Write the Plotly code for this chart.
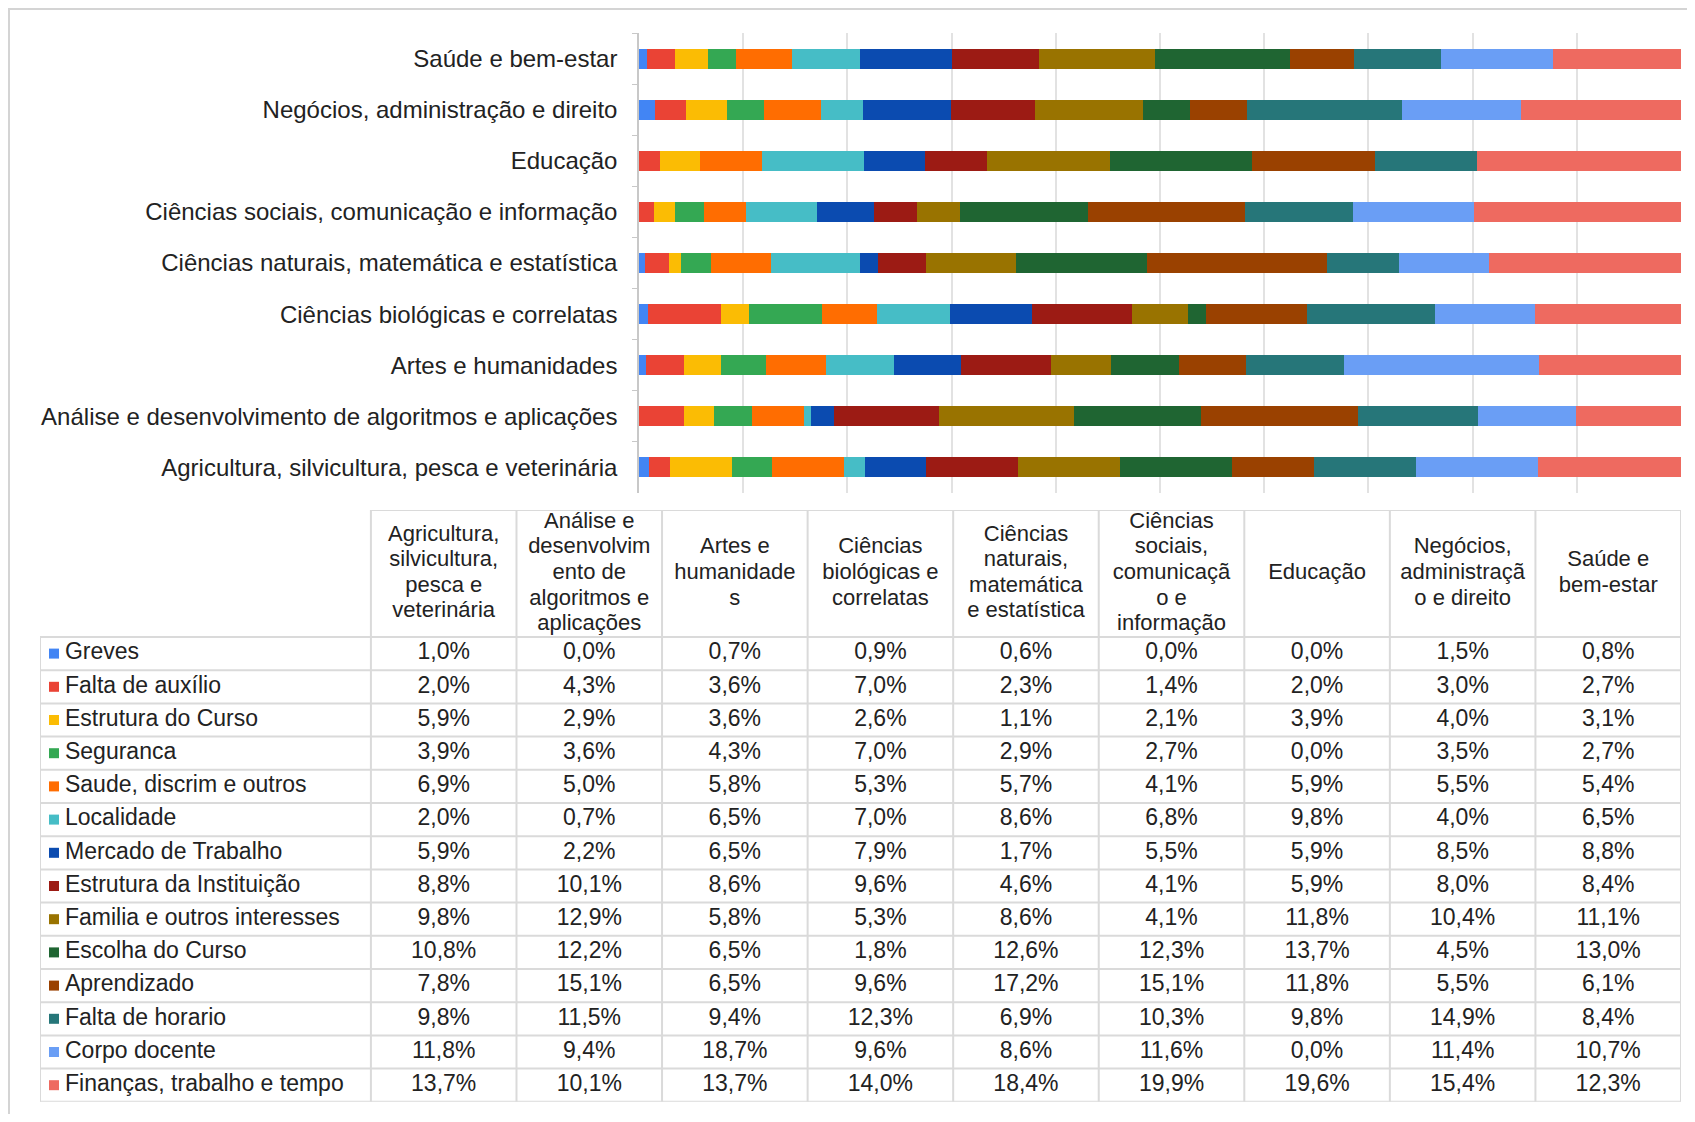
import plotly.graph_objects as go

# areas (bar categories / table columns), bottom-to-top order in the chart
areas = [
    "Agricultura, silvicultura, pesca e veterinária",
    "Análise e desenvolvimento de algoritmos e aplicações",
    "Artes e humanidades",
    "Ciências biológicas e correlatas",
    "Ciências naturais, matemática e estatística",
    "Ciências sociais, comunicação e informação",
    "Educação",
    "Negócios, administração e direito",
    "Saúde e bem-estar",
]

# column headers as they wrap in the table
area_headers = [
    "Agricultura,<br>silvicultura,<br>pesca e<br>veterinária",
    "Análise e<br>desenvolvim<br>ento de<br>algoritmos e<br>aplicações",
    "Artes e<br>humanidade<br>s",
    "Ciências<br>biológicas e<br>correlatas",
    "Ciências<br>naturais,<br>matemática<br>e estatística",
    "Ciências<br>sociais,<br>comunicaçã<br>o e<br>informação",
    "Educação",
    "Negócios,<br>administraçã<br>o e direito",
    "Saúde e<br>bem-estar",
]

reasons = [
    "Greves",
    "Falta de auxílio",
    "Estrutura do Curso",
    "Seguranca",
    "Saude, discrim e outros",
    "Localidade",
    "Mercado de Trabalho",
    "Estrutura da Instituição",
    "Familia e outros interesses",
    "Escolha do Curso",
    "Aprendizado",
    "Falta de horario",
    "Corpo docente",
    "Finanças, trabalho e tempo",
]

greves = [1.0, 0.0, 0.7, 0.9, 0.6, 0.0, 0.0, 1.5, 0.8]
falta_auxilio = [2.0, 4.3, 3.6, 7.0, 2.3, 1.4, 2.0, 3.0, 2.7]
estrutura_curso = [5.9, 2.9, 3.6, 2.6, 1.1, 2.1, 3.9, 4.0, 3.1]
seguranca = [3.9, 3.6, 4.3, 7.0, 2.9, 2.7, 0.0, 3.5, 2.7]
saude_discrim = [6.9, 5.0, 5.8, 5.3, 5.7, 4.1, 5.9, 5.5, 5.4]
localidade = [2.0, 0.7, 6.5, 7.0, 8.6, 6.8, 9.8, 4.0, 6.5]
mercado_trabalho = [5.9, 2.2, 6.5, 7.9, 1.7, 5.5, 5.9, 8.5, 8.8]
estrutura_instituicao = [8.8, 10.1, 8.6, 9.6, 4.6, 4.1, 5.9, 8.0, 8.4]
familia = [9.8, 12.9, 5.8, 5.3, 8.6, 4.1, 11.8, 10.4, 11.1]
escolha_curso = [10.8, 12.2, 6.5, 1.8, 12.6, 12.3, 13.7, 4.5, 13.0]
aprendizado = [7.8, 15.1, 6.5, 9.6, 17.2, 15.1, 11.8, 5.5, 6.1]
falta_horario = [9.8, 11.5, 9.4, 12.3, 6.9, 10.3, 9.8, 14.9, 8.4]
corpo_docente = [11.8, 9.4, 18.7, 9.6, 8.6, 11.6, 0.0, 11.4, 10.7]
financas = [13.7, 10.1, 13.7, 14.0, 18.4, 19.9, 19.6, 15.4, 12.3]

series = [
    greves, falta_auxilio, estrutura_curso, seguranca, saude_discrim,
    localidade, mercado_trabalho, estrutura_instituicao, familia,
    escolha_curso, aprendizado, falta_horario, corpo_docente, financas,
]

colors = [
    "#4285F4", "#EA4335", "#FBBC04", "#34A853", "#FF6D01", "#46BDC6",
    "#0B4BB0", "#9C1B14", "#997300", "#1F6532", "#9A4100", "#267679",
    "#6A9EF5", "#EE6A60",
]

FONT = "Liberation Sans, Arial, sans-serif"
TEXT = "#222222"
LINE = "#dadada"

# figure sits inside the page body (8px margin)
W, H, OFF = 1679, 1106, 8


def px(x):
    return (x - OFF) / W


def py(y):
    return 1 - (y - OFF) / H


# table geometry
col_w = [331] + [145.6] * len(areas)
edges = [0]
for w in col_w:
    edges.append(edges[-1] + w)
table_w = edges[-1]
header_h = 127
row_h = 33.2
line_h = 25.6
table_h = header_h + row_h * len(reasons)
centers = [(edges[k] + edges[k + 1]) / 2 for k in range(len(col_w))]

fig = go.Figure()

for name, vals, col in zip(reasons, series, colors):
    fig.add_trace(
        go.Bar(
            x=vals,
            y=areas,
            orientation="h",
            name=name,
            marker_color=col,
            marker_line_width=0,
            hoverinfo="skip",
            showlegend=False,
        )
    )

# table: cell values
cx, cy, ct = [], [], []
for i, vals in enumerate(series):
    for j, v in enumerate(vals):
        cx.append(centers[j + 1])
        cy.append(header_h + (i + 0.5) * row_h)
        ct.append(f"{v:.1f}".replace(".", ",") + "%")

fig.add_trace(
    go.Scatter(
        x=cx, y=cy, text=ct, mode="text", textposition="middle center",
        textfont=dict(family=FONT, size=23, color=TEXT),
        xaxis="x2", yaxis="y2", cliponaxis=False, hoverinfo="skip", showlegend=False,
    )
)

# table: column headers, one point per wrapped line (tighter line spacing)
hx, hy, ht = [], [], []
for j, label in enumerate(area_headers):
    lines = label.split("<br>")
    n = len(lines)
    for k, ln in enumerate(lines):
        hx.append(centers[j + 1])
        hy.append(header_h / 2 + (k - (n - 1) / 2) * line_h)
        ht.append(ln)

fig.add_trace(
    go.Scatter(
        x=hx, y=hy, text=ht, mode="text", textposition="middle center",
        textfont=dict(family=FONT, size=22, color=TEXT),
        xaxis="x2", yaxis="y2", cliponaxis=False, hoverinfo="skip", showlegend=False,
    )
)

# table: legend column
row_y = [header_h + (i + 0.5) * row_h for i in range(len(reasons))]
fig.add_trace(
    go.Scatter(
        x=[14] * len(reasons), y=row_y, mode="markers",
        marker=dict(symbol="square", size=10, color=colors, line_width=0),
        xaxis="x2", yaxis="y2", cliponaxis=False, hoverinfo="skip", showlegend=False,
    )
)
fig.add_trace(
    go.Scatter(
        x=[25] * len(reasons), y=row_y, text=reasons, mode="text",
        textposition="middle right",
        textfont=dict(family=FONT, size=23, color=TEXT),
        xaxis="x2", yaxis="y2", cliponaxis=False, hoverinfo="skip", showlegend=False,
    )
)

shapes = []
# header row borders
shapes.append(dict(type="line", xref="x2", yref="y2", x0=edges[1], x1=table_w, y0=0, y1=0))
for i in range(len(reasons) + 1):
    y = header_h + i * row_h
    shapes.append(dict(type="line", xref="x2", yref="y2", x0=0, x1=table_w, y0=y, y1=y))
shapes.append(dict(type="line", xref="x2", yref="y2", x0=0, x1=0, y0=header_h, y1=table_h))
for e in edges[1:]:
    shapes.append(dict(type="line", xref="x2", yref="y2", x0=e, x1=e, y0=0, y1=table_h))
for s in shapes:
    s["line"] = dict(color=LINE, width=2)
    s["layer"] = "below"

# outer frame (left and top edges)
shapes.append(dict(type="line", xref="paper", yref="paper", x0=1 / W, x1=1 / W, y0=0, y1=1,
                   line=dict(color="#d4d4d4", width=2)))
shapes.append(dict(type="line", xref="paper", yref="paper", x0=0, x1=1, y0=1 - 1 / H, y1=1 - 1 / H,
                   line=dict(color="#d4d4d4", width=2)))

fig.update_layout(
    width=W,
    height=H,
    margin=dict(l=0, r=0, t=0, b=0, pad=0),
    paper_bgcolor="white",
    plot_bgcolor="white",
    font=dict(family=FONT, color=TEXT),
    barmode="stack",
    barnorm="percent",
    bargap=0.61,
    shapes=shapes,
    xaxis=dict(
        domain=[px(639), px(1681)],
        range=[0, 100],
        dtick=10,
        showticklabels=False,
        showgrid=True,
        gridcolor="#e2e2e2",
        gridwidth=1.5,
        zeroline=False,
        showline=False,
        ticks="",
        fixedrange=True,
    ),
    yaxis=dict(
        domain=[py(493), py(33)],
        type="category",
        categoryorder="array",
        categoryarray=areas,
        tickson="boundaries",
        ticks="outside",
        ticklen=5,
        tickcolor="#c8c8c8",
        showline=True,
        linecolor="#c8c8c8",
        linewidth=1.5,
        showgrid=False,
        tickfont=dict(family=FONT, size=24, color=TEXT),
        ticklabelstandoff=15,
        automargin=False,
        fixedrange=True,
    ),
    xaxis2=dict(
        domain=[px(40), px(1681)],
        range=[0, table_w],
        visible=False,
        anchor="y2",
        fixedrange=True,
    ),
    yaxis2=dict(
        domain=[py(510 + table_h), py(510)],
        range=[table_h, 0],
        visible=False,
        anchor="x2",
        fixedrange=True,
    ),
)

fig.write_html("out.html")
